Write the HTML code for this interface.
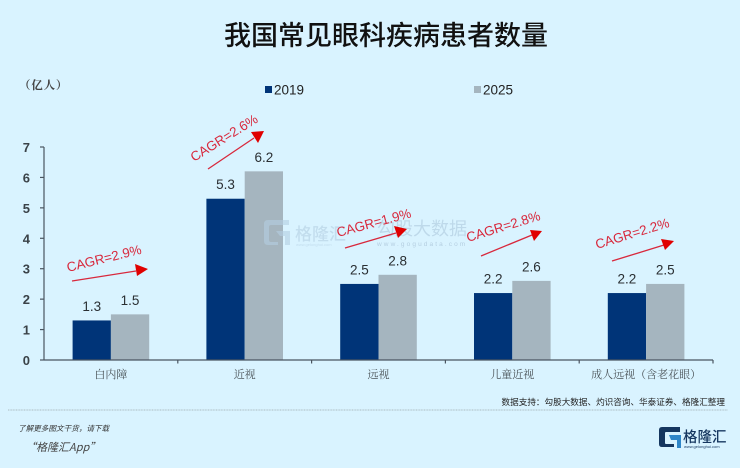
<!DOCTYPE html>
<html lang="zh">
<head>
<meta charset="utf-8">
<title>我国常见眼科疾病患者数量</title>
<style>
html,body{margin:0;padding:0;background:#d9f3ff;}
#stage{display:block;width:740px;height:468px;overflow:hidden;filter:blur(0.35px);}
text{font-family:"Liberation Sans","Noto Sans CJK SC",sans-serif;}
.serif{font-family:"Liberation Serif","Noto Serif CJK SC",serif;}
</style>
</head>
<body>
<svg id="stage" xmlns="http://www.w3.org/2000/svg" width="740" height="468" viewBox="0 0 740 468">
  <rect width="740" height="468" fill="#d9f3ff"/>
  <text x="386" y="45" text-anchor="middle" font-size="27" font-weight="500" fill="#111" style="font-family:'Noto Sans CJK SC',sans-serif">我国常见眼科疾病患者数量</text>
  <text class="serif" x="19" y="89" font-size="11.5" font-weight="700" fill="#444" style="letter-spacing:0.8px">（亿人）</text>

  <g>
    <rect x="265" y="86" width="7" height="7" fill="#003478"/>
    <text x="274" y="94.500" font-size="13.500" fill="#222">2019</text>
    <rect x="474" y="86" width="7" height="7" fill="#a5b5bf"/>
    <text x="483" y="94.500" font-size="13.500" fill="#222">2025</text>
  </g>

  <g id="plot"></g>

  <g opacity="0.6">
    <path d="M268 220h21v5h-18q-2 0-2 2v13q0 2 2 2h7v3h-10q-4 0-4-4v-17q0-4 4-4z" fill="#b4cfe2"/>
    <path d="M276 231h14v14h-5v-9h-5z" fill="#b4cfe2"/>
    <text x="295" y="240" font-size="17" font-weight="500" fill="#b4cfe2" style="font-family:'Noto Sans CJK SC',sans-serif">格隆汇</text>
    <text x="296" y="246" font-size="4" fill="#b4cfe2">www.gelonghui.com</text>
  </g>
  <g opacity="0.7">
    <text x="377" y="235" font-size="18" fill="#b4cfe2" style="font-family:'Noto Sans CJK SC',sans-serif">勾股大数据</text>
    <text x="377" y="246" font-size="6.5" fill="#a5bfd4" style="letter-spacing:2.1px">www.gogudata.com</text>
  </g>

  <g fill="#d8283c">
    <g>
      <text transform="translate(68,272) rotate(-14)" font-size="13.300">CAGR=2.9%</text>
      <line x1="72" y1="281" x2="136" y2="271" stroke="#d8283c" stroke-width="1.3"/>
      <polygon points="148,269 135,264 137,276" fill="#e00000"/>
    </g>
    <g>
      <text transform="translate(194,162) rotate(-32)" font-size="13.300">CAGR=2.6%</text>
      <line x1="208" y1="169" x2="254" y2="138" stroke="#d8283c" stroke-width="1.3"/>
      <polygon points="264,131 251,132 258,143" fill="#e00000"/>
    </g>
    <g>
      <text transform="translate(338,237) rotate(-15)" font-size="13.300">CAGR=1.9%</text>
      <line x1="345" y1="248" x2="396" y2="233" stroke="#d8283c" stroke-width="1.3"/>
      <polygon points="407,229 394,226 398,238" fill="#e00000"/>
    </g>
    <g>
      <text transform="translate(468,242) rotate(-17)" font-size="13.300">CAGR=2.8%</text>
      <line x1="481" y1="256" x2="532" y2="235" stroke="#d8283c" stroke-width="1.3"/>
      <polygon points="542,231 530,230 534,241" fill="#e00000"/>
    </g>
    <g>
      <text transform="translate(597,249) rotate(-17)" font-size="13.300">CAGR=2.2%</text>
      <line x1="612" y1="261" x2="664" y2="245" stroke="#d8283c" stroke-width="1.3"/>
      <polygon points="674,241 661,239 665,250" fill="#e00000"/>
    </g>
  </g>

  <text x="725" y="405" text-anchor="end" font-size="8.600" fill="#222" style="font-family:'Noto Sans CJK SC',sans-serif">数据支持：勾股大数据、灼识咨询、华泰证券、格隆汇整理</text>
  <line x1="8" y1="410" x2="728" y2="410" stroke="#b4c6ce" stroke-width="1.2" stroke-dasharray="1 0.6"/>

  <text x="18" y="431" font-size="7.600" font-style="italic" fill="#333" style="font-family:'Noto Sans CJK SC',sans-serif">了解更多图文干货，请下载</text>
  <text x="25" y="451" font-size="11" font-style="italic" fill="#444" style="font-family:'Noto Sans CJK SC',sans-serif">“格隆汇App”</text>

  <g>
    <path d="M662 427h18v5h-14q-1 0-1 1v10q0 1 1 1h8v3h-12q-3 0-3-3v-14q0-3 3-3z" fill="#15365f"/>
    <path d="M669 435h12v13h-4v-8h-6z" fill="#2f86c8"/>
    <text x="683" y="442" font-size="14.500" font-weight="500" fill="#15365f" style="font-family:'Noto Sans CJK SC',sans-serif">格隆汇</text>
    <text x="684" y="448" font-size="4" fill="#15365f">www.gelonghui.com</text>
  </g>
</svg>

<script>
const categories = ["白内障", "近视", "远视", "儿童近视", "成人远视（含老花眼）"];
const series2019 = [1.3, 5.3, 2.5, 2.2, 2.2];
const series2025 = [1.5, 6.2, 2.8, 2.6, 2.5];
const yTicks = [0, 1, 2, 3, 4, 5, 6, 7];

const NS = "http://www.w3.org/2000/svg";
const plot = document.getElementById("plot");
const plotLeft = 44;
const plotRight = 713;
const plotBottom = 360;
const plotTop = 147;
const yMax = 7;
const barWidth = 38.3;

function yScale(v) {
  return plotBottom - (v / yMax) * (plotBottom - plotTop);
}
function bandStart(i) {
  return plotLeft + i * (plotRight - plotLeft) / categories.length;
}
function bandCenter(i) {
  return bandStart(i) + (plotRight - plotLeft) / categories.length / 2;
}
function make(tag, attrs) {
  const el = document.createElementNS(NS, tag);
  Object.keys(attrs).forEach(function (k) { el.setAttribute(k, attrs[k]); });
  plot.appendChild(el);
  return el;
}

categories.forEach(function (cat, i) {
  const cx = bandCenter(i);

  const bar19 = make("rect", { x: cx - barWidth, y: yScale(series2019[i]), width: barWidth, height: plotBottom - yScale(series2019[i]), fill: "#003478" });
  
  

  const bar25 = make("rect", { x: cx, y: yScale(series2025[i]), width: barWidth, height: plotBottom - yScale(series2025[i]), fill: "#a5b5bf" });
  
  

  const val19 = make("text", { x: cx - barWidth / 2, y: yScale(series2019[i]) - 9.5, "text-anchor": "middle", "font-size": "13.5", fill: "#2a2f33" });
  val19.textContent = series2019[i].toFixed(1);
  
  

  const val25 = make("text", { x: cx + barWidth / 2, y: yScale(series2025[i]) - 9.5, "text-anchor": "middle", "font-size": "13.5", fill: "#2a2f33" });
  val25.textContent = series2025[i].toFixed(1);
  
  

  const catLabel = make("text", { x: cx, y: 378, "text-anchor": "middle", "font-size": "11", fill: "#4a5257", "class": "serif" });
  catLabel.textContent = cat;
  
  
});

const yAxis = make("line", { x1: plotLeft, y1: plotTop, x2: plotLeft, y2: plotBottom, stroke: "#4a5560", "stroke-width": 1.2 });



const xAxis = make("line", { x1: plotLeft, y1: plotBottom, x2: plotRight, y2: plotBottom, stroke: "#4a5560", "stroke-width": 1.2 });



yTicks.forEach(function (t) {
  const tick = make("line", { x1: plotLeft - 4, y1: yScale(t), x2: plotLeft, y2: yScale(t), stroke: "#4a5560", "stroke-width": 1.2 });
  
  

  const label = make("text", { x: 30, y: yScale(t) + 5, "text-anchor": "end", "font-size": "13", "font-weight": "700", fill: "#3a4248" });
  label.textContent = String(t);
  
  
});

categories.forEach(function (cat, i) {
  const tx = bandStart(i + 1);
  const tick = make("line", { x1: tx, y1: plotBottom, x2: tx, y2: plotBottom + 3.5, stroke: "#4a5560", "stroke-width": 1.2 });
  
  
});
</script>
</body>
</html>
